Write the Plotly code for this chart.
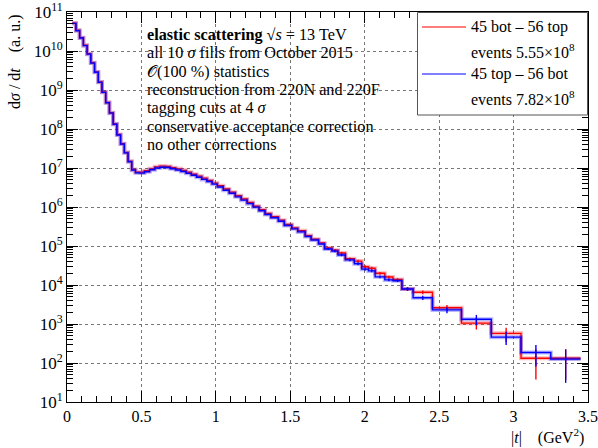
import plotly.graph_objects as go

# ---------------- data ----------------
edges = [0.035, 0.06, 0.085, 0.11, 0.135, 0.16, 0.185, 0.21, 0.235, 0.26, 0.285, 0.31, 0.335,
         0.36, 0.385, 0.41, 0.435, 0.46, 0.485,
         0.52, 0.555, 0.59, 0.625, 0.66, 0.695, 0.73, 0.765, 0.80, 0.835, 0.87, 0.905, 0.94, 0.975, 1.01,
         1.05, 1.09, 1.13, 1.17, 1.21, 1.25, 1.29, 1.33, 1.37,
         1.42, 1.46, 1.51, 1.55, 1.60, 1.64, 1.69, 1.73, 1.78, 1.82, 1.87,
         1.93, 1.98, 2.025, 2.07, 2.135, 2.19, 2.25, 2.325, 2.455,
         2.65, 2.85, 3.05, 3.25, 3.45]

red_vals = [5.2e10, 3.4e10, 2.2e10, 1.4e10, 8.5e9, 5.0e9, 2.9e9, 1.6e9, 8.9e8, 4.8e8, 2.6e8, 1.35e8,
            7.2e7, 4.2e7, 2.5e7, 1.5e7, 9.1e6, 7.8e6,
            7.8e6, 8.5e6, 9.5e6, 1.07e7, 1.12e7, 1.10e7, 1.02e7, 9.5e6, 8.7e6, 7.8e6, 6.9e6, 6.2e6,
            5.5e6, 4.8e6, 4.1e6,
            3.5e6, 2.9e6, 2.4e6, 1.95e6, 1.6e6, 1.3e6, 1.05e6, 8.5e5, 6.8e5,
            5.6e5, 4.6e5, 3.55e5, 2.9e5, 2.45e5, 1.85e5, 1.5e5, 1.2e5, 8.9e4, 7.8e4, 6.6e4,
            4.7e4, 4.1e4, 2.95e4, 2.7e4, 2.0e4, 1.6e4, 1.38e4, 7.9e3, 6.5e3,
            2.6e3, 1.05e3, 575, 132, 132]

blue_vals = [5.1e10, 3.3e10, 2.15e10, 1.37e10, 8.3e9, 4.9e9, 2.85e9, 1.57e9, 8.7e8, 4.7e8, 2.55e8, 1.32e8,
             7.0e7, 4.1e7, 2.45e7, 1.45e7, 8.8e6, 7.5e6,
             7.4e6, 8.0e6, 9.0e6, 1.0e7, 1.05e7, 1.03e7, 9.6e6, 8.9e6, 8.1e6, 7.3e6, 6.5e6, 5.8e6,
             5.1e6, 4.5e6, 3.85e6,
             3.25e6, 2.7e6, 2.25e6, 1.82e6, 1.5e6, 1.22e6, 9.9e5, 8.0e5, 6.4e5,
             5.3e5, 4.3e5, 3.35e5, 2.75e5, 2.3e5, 1.75e5, 1.42e5, 1.13e5, 8.4e4, 7.4e4, 5.9e4,
             4.4e4, 3.5e4, 2.55e4, 2.3e4, 1.62e4, 1.35e4, 1.29e4, 7.9e3, 4.7e3,
             2.3e3, 1.32e3, 460, 186, 126]

# statistical errors shown for the tail bins (from bin index err_start on)
err_start = 50
red_err = [5e3, 4.5e3, 4.5e3, 3.5e3, 3.2e3, 2.4e3, 2.2e3, 1.6e3, 1.3e3, 1.1e3, 800, 700, 450, 330, 230, 94, 95]
blue_err = [5e3, 4.5e3, 4.2e3, 3.3e3, 2.8e3, 2.1e3, 1.9e3, 1.3e3, 1.1e3, 1.0e3, 800, 600, 400, 390, 170, 105, 95]

y_tick_exps = [1, 2, 3, 4, 5, 6, 7, 8, 9, 10, 11]
x_tick_vals = [0, 0.5, 1, 1.5, 2, 2.5, 3, 3.5]
x_tick_text = ["0", "0.5", "1", "1.5", "2", "2.5", "3", "3.5"]

info_lines = [
    "<b>elastic scattering</b> √<i>s</i> = 13 TeV",
    "all 10 <i>σ</i> fills from October 2015",
    "𝒪(100 %) statistics",
    "reconstruction from 220N and 220F",
    "tagging cuts at 4 <i>σ</i>",
    "conservative acceptance correction",
    "no other corrections",
]
legend_entries = [("45 bot – 56 top", "events 5.55×10<sup>8</sup>", "#ff0000"),
                  ("45 top – 56 bot", "events 7.82×10<sup>8</sup>", "#0000ff")]

# ---------------- layout geometry ----------------
W, H = 598, 448
L, R, T, B = 67, 588, 12, 402
FONT = "Liberation Serif"


def px(x):
    return (x - L) / (R - L)


def py(y):
    return (B - y) / (B - T)


fig = go.Figure()


def add_hist(vals, errs, color, band):
    xs = edges[:]
    ys = vals + [vals[-1]]
    fig.add_trace(go.Scatter(x=xs, y=ys, mode="lines", line=dict(color=band, width=4, shape="hv"),
                             hoverinfo="skip", showlegend=False))
    fig.add_trace(go.Scatter(x=xs, y=ys, mode="lines", line=dict(color=color, width=1.4, shape="hv"),
                             showlegend=False))
    centers = [(edges[i] + edges[i + 1]) / 2 for i in range(err_start, len(vals))]
    fig.add_trace(go.Scatter(x=centers, y=vals[err_start:], mode="markers",
                             marker=dict(size=1, color=color, opacity=0),
                             error_y=dict(type="data", array=errs, color=color, thickness=1.4, width=0),
                             showlegend=False))


add_hist(red_vals, red_err, "#ff0000", "rgba(255,0,0,0.28)")
add_hist(blue_vals, blue_err, "#0000ff", "rgba(0,0,255,0.28)")

minor_y = [m * 10 ** e for e in range(1, 11) for m in range(2, 10)]

fig.update_xaxes(range=[0, 3.5], tickmode="array", tickvals=x_tick_vals, ticktext=x_tick_text,
                 automargin=False, ticklabeloverflow="allow",
                 ticks="inside", ticklen=11, tickwidth=1, tickcolor="black",
                 showline=True, linecolor="black", linewidth=1, mirror="ticks",
                 showgrid=True, gridcolor="#777777", griddash="dot", gridwidth=1,
                 zeroline=False,
                 minor=dict(ticks="inside", ticklen=6, tickcolor="black", dtick=0.1, showgrid=False),
                 tickfont=dict(family=FONT, size=16, color="black"))
fig.update_yaxes(type="log", range=[1, 11.0001], tickmode="array",
                 tickvals=[10 ** e for e in y_tick_exps],
                 ticktext=["10<sup>%d</sup>" % e for e in y_tick_exps],
                 automargin=False, ticklabeloverflow="allow",
                 ticks="inside", ticklen=11, tickwidth=1, tickcolor="black",
                 showline=True, linecolor="black", linewidth=1, mirror="ticks",
                 showgrid=True, gridcolor="#777777", griddash="dot", gridwidth=1,
                 zeroline=False,
                 minor=dict(ticks="inside", ticklen=6, tickcolor="black", tickmode="array",
                            tickvals=minor_y, showgrid=False),
                 tickfont=dict(family=FONT, size=17, color="black"))

ann = []
for i, line in enumerate(info_lines):
    ann.append(dict(xref="paper", yref="paper", x=px(145), y=py(35 + i * 18.35), text=line,
                    showarrow=False, xanchor="left", yanchor="middle",
                    font=dict(family=FONT, size=16.2, color="black")))

shapes = [dict(type="rect", xref="paper", yref="paper", x0=px(417.5), x1=px(587.5), y0=py(115), y1=py(12.5),
               line=dict(color="#555555", width=1), fillcolor="white", layer="above")]
for k, (name, ev, col) in enumerate(legend_entries):
    y1 = 27 + k * 47
    y2 = 51 + k * 47
    shapes.append(dict(type="line", xref="paper", yref="paper", x0=px(422), x1=px(466), y0=py(y1), y1=py(y1),
                       line=dict(color=col, width=1.2), layer="above"))
    ann.append(dict(xref="paper", yref="paper", x=px(469), y=py(y1), text=name, showarrow=False,
                    xanchor="left", yanchor="middle", font=dict(family=FONT, size=16, color="black")))
    ann.append(dict(xref="paper", yref="paper", x=px(469), y=py(y2), text=ev, showarrow=False,
                    xanchor="left", yanchor="middle", font=dict(family=FONT, size=16, color="black")))

ann.append(dict(xref="paper", yref="paper", x=px(586), y=py(437), text="|<i>t</i>|    (GeV<sup>2</sup>)",
                showarrow=False, xanchor="right", yanchor="middle",
                font=dict(family=FONT, size=16, color="black")))
ann.append(dict(xref="paper", yref="paper", x=px(15), y=py(62), text="d<i>σ</i> / d<i>t</i>    (a. u.)",
                showarrow=False, xanchor="center", yanchor="middle", textangle=-90,
                font=dict(family=FONT, size=16, color="black")))

fig.update_layout(width=W, height=H, margin=dict(l=L, r=W - R, t=T, b=H - B, autoexpand=False),
                  paper_bgcolor="white", plot_bgcolor="white",
                  showlegend=False, annotations=ann, shapes=shapes)

fig.write_html("out.html", config={"displayModeBar": False},
               post_script="document.body.style.margin='0';")
